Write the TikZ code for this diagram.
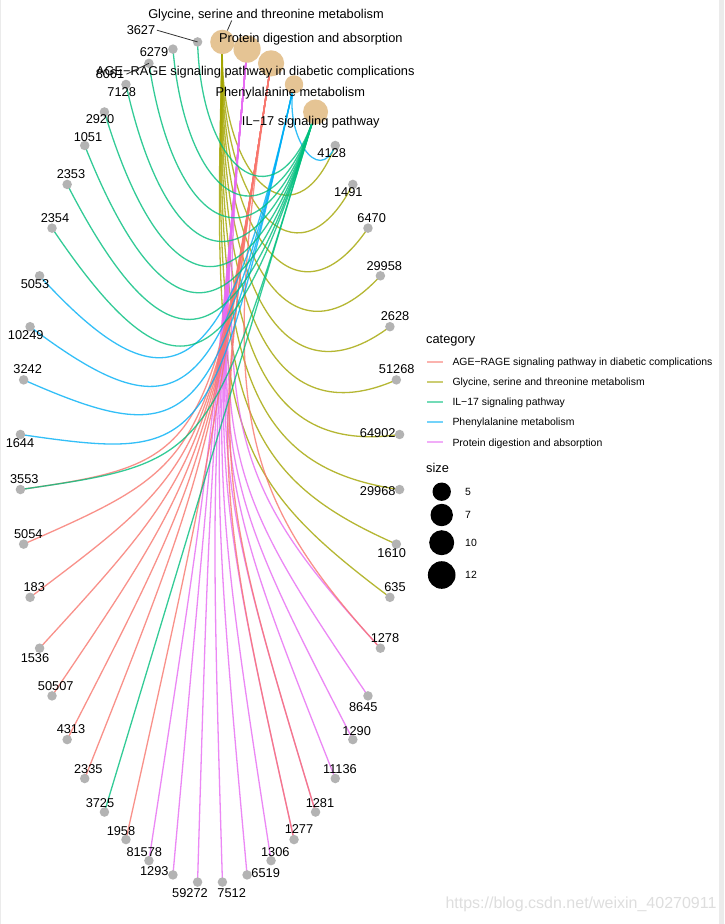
\documentclass[tikz,border=0pt]{standalone}
\usepackage{fontspec}
\setmainfont{Liberation Sans}
\usetikzlibrary{calc}
\pgfdeclarelayer{back}
\pgfdeclarelayer{bg}
\pgfsetlayers{back,bg,main}
\definecolor{cAGE}{HTML}{F8766D}
\definecolor{cGLY}{HTML}{A3A500}
\definecolor{cIL}{HTML}{00BF7D}
\definecolor{cPHE}{HTML}{00B0F6}
\definecolor{cPRO}{HTML}{E76BF3}
\definecolor{catfill}{HTML}{E5C494}
\definecolor{genefill}{HTML}{B3B3B3}
\definecolor{stripgray}{HTML}{EBEBEB}
\begin{document}
\begin{tikzpicture}[x=1pt,y=-1pt,
  genedot/.style={circle,fill=genefill,inner sep=0pt,minimum size=9.5pt},
  catdot/.style={circle,fill=catfill,inner sep=0pt},
  lab/.style={font=\fontsize{12.8}{14}\selectfont,inner sep=0pt,anchor=base},
  keylab/.style={font=\fontsize{10.45}{12}\selectfont,inner sep=0pt,anchor=base west},
  ttl/.style={font=\fontsize{12.8}{14}\selectfont,inner sep=0pt,anchor=base west},
  edgeline/.style={line width=1.3pt,opacity=0.8},
  keyline/.style={line width=1.6pt,opacity=0.55},
  leader/.style={draw=black!80,line width=0.8pt}
]
\begin{pgfonlayer}{back}
\fill[white] (0,0) rectangle (724,924);
\fill[stripgray] (719,0) rectangle (724,924);
\fill[stripgray] (0,0) rectangle (1,924);
\end{pgfonlayer}
\useasboundingbox (0,0) rectangle (724,924);
\coordinate (ctr) at (210,462);

% category nodes
\foreach \n/\a/\r in {GLY/86.25/12.2, PRO/78.75/13.6, AGE/71.25/13.1, PHE/63.75/9.2, ILS/56.25/12.5}{
  \expandafter\xdef\csname ang\n\endcsname{\a}
  \node[catdot,minimum size={2*\r*1pt}] (\n) at ({210+190*cos(\a)},{462-421*sin(\a)}) {};
}

% gene nodes and labels
\foreach \g/\k/\lx/\ly in {
 4128/0/331.7/153.3, 1491/1/348.3/192.3, 6470/2/371.7/217.7, 29958/3/384.3/265.7,
 2628/4/395/315.7, 51268/5/396.7/369.3, 64902/6/377.7/433.3, 29968/7/377.7/490.7,
 1610/8/391.7/553.3, 635/9/395/587.3, 1278/10/385/638.3, 8645/11/363.3/706.7,
 1290/12/356.7/730.7, 11136/13/340/769.3, 1281/14/320/803.3, 1277/15/299/829.3,
 1306/16/275.3/851.7, 6519/17/265.7/872.7, 7512/18/231.7/892.7, 59272/19/190/893.3,
 1293/20/154.3/871, 81578/21/144.3/852.3, 1958/22/121/830.7, 3725/23/100/803.3,
 2335/24/88.3/769, 4313/25/71/729.3, 50507/26/55.7/685.7, 1536/27/35/657.7,
 183/28/34.3/587.3, 5054/29/28.3/534.3, 3553/30/24.3/479.3, 1644/31/20/443.3,
 3242/32/27.7/369.3, 10249/33/25.7/335, 5053/34/35/284, 2354/35/55/218,
 2353/36/71/174, 1051/37/88/136.7, 2920/38/100/119, 7128/39/121.7/91.7,
 8061/40/110/74, 6279/41/154/52, 3627/42/141/30}{
  \pgfmathsetmacro\angG{48.75-7.5*\k}
  \expandafter\xdef\csname ang\g\endcsname{\angG}
  \node[genedot] (g\g) at ({210+190*cos(\angG)},{462-421*sin(\angG)}) {};
  \node[lab] (l\g) at (\lx,\ly+4.6) {\g};
}

% edges
\begin{pgfonlayer}{bg}
\foreach \c/\col/\gl in {
  GLY/cGLY/{4128,1491,6470,29958,2628,51268,64902,29968,1610,635},
  PRO/cPRO/{1277,1278,1281,8645,1290,11136,1306,6519,7512,59272,1293,81578},
  AGE/cAGE/{3553,5054,183,1536,50507,4313,2335,1958,1277,1278,1281},
  PHE/cPHE/{4128,5053,10249,3242,1644},
  ILS/cIL/{3627,6279,8061,7128,2920,1051,2353,2354,3553,3725}}{
  \foreach \g in \gl {
    \pgfmathsetmacro\angA{\csname ang\c\endcsname}
    \pgfmathsetmacro\angB{\csname ang\g\endcsname}
    \pgfmathsetmacro\hA{min(1,abs(mod(\angB-\angA+900,360)-180)*pi/360)}
    \draw[edgeline,\col] (\c.center) .. controls ($(\c.center)!\hA!(ctr)$) and ($(g\g.center)!\hA!(ctr)$) .. (g\g.center);
  }
}
\end{pgfonlayer}

% leader lines
\draw[leader] ([xshift=1.5pt]l3627.east) -- (g3627.center);
\draw[leader] ([xshift=2pt]l8061.east) -- (g8061.center);
\coordinate (glyle) at (231.7,20.5);
\draw[leader] (glyle) -- (GLY);

% category labels
\node[lab] (tGLY) at (266,18.6) {Glycine, serine and threonine metabolism};
\node[lab] (tPRO) at (310.8,42.3) {Protein digestion and absorption};
\node[lab] (tAGE) at (255.3,75.3) {AGE−RAGE signaling pathway in diabetic complications};
\node[lab] (tPHE) at (290.3,96.9) {Phenylalanine metabolism};
\node[lab] (tILS) at (310.8,125.3) {IL−17 signaling pathway};

% legend: category
\node[ttl] (legcat) at (426,343.9) {category};
\draw[keyline,cAGE] (427.3,362) -- (443.3,362);
\draw[keyline,cGLY] (427.3,382) -- (443.3,382);
\draw[keyline,cIL]  (427.3,402) -- (443.3,402);
\draw[keyline,cPHE] (427.3,422) -- (443.3,422);
\draw[keyline,cPRO] (427.3,442) -- (443.3,442);
\node[keylab] (kl1) at (452.3,365.5) {AGE−RAGE signaling pathway in diabetic complications};
\node[keylab] (kl2) at (452.3,385.5) {Glycine, serine and threonine metabolism};
\node[keylab] (kl3) at (452.3,405.5) {IL−17 signaling pathway};
\node[keylab] (kl4) at (452.3,425.8) {Phenylalanine metabolism};
\node[keylab] (kl5) at (452.3,446.1) {Protein digestion and absorption};

% legend: size
\node[ttl] (legsize) at (426,472.9) {size};
\foreach \i/\v/\r/\yy in {1/5/9.2/491.7, 2/7/11.2/515, 3/10/12.5/542.7, 4/12/13.8/575}{
  \node[circle,fill=black,inner sep=0pt,minimum size={2*\r*1pt}] (sz\i) at (441.7,\yy) {};
  \node[keylab] (szl\i) at (465,\yy+3.8) {\v};
}

% watermark
\node[inner sep=0pt,anchor=base,font=\fontsize{16}{18}\selectfont,text=black!13] (wm) at (581,908) {https://blog.csdn.net/weixin\_40270911};
\end{tikzpicture}
\end{document}
